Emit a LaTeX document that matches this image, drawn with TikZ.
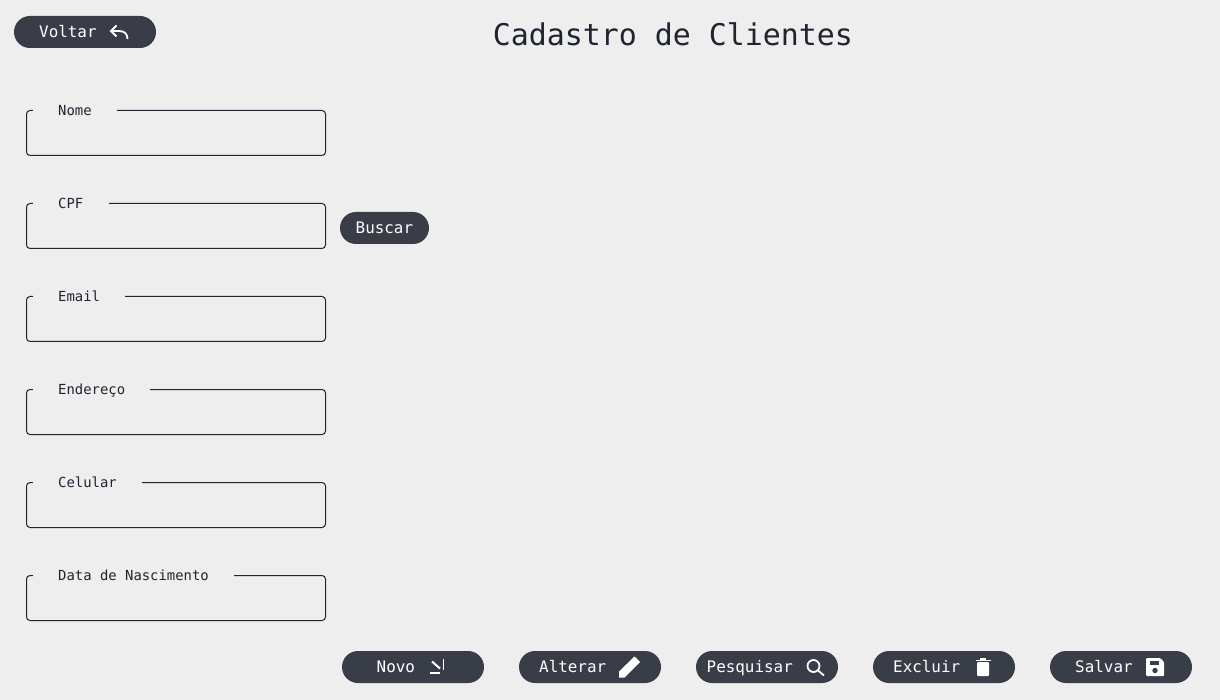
\documentclass[tikz,border=0pt]{standalone}
\usepackage{fontspec}
\setmainfont{DejaVu Sans Mono}
\definecolor{pagebg}{HTML}{EEEEEE}
\definecolor{btnfill}{HTML}{393D47}
\definecolor{ink}{HTML}{1F2430}
\begin{document}
\begin{tikzpicture}[
    x=1pt, y=-1pt,
    field/.style={draw=ink, line width=1pt, rounded corners=3.5pt, minimum width=299pt, minimum height=45pt, inner sep=0pt, outer sep=0pt, anchor=north west},
    flabel/.style={fill=pagebg, text=ink, font=\fontsize{13.9}{16}\selectfont, inner xsep=25.3pt, inner ysep=2pt, anchor=base west},
    btn/.style={fill=btnfill, rounded corners=16pt, minimum height=32pt, inner sep=0pt},
    btntext/.style={text=white, font=\fontsize{15.9}{18}\selectfont, inner sep=0pt, anchor=base west},
    icon/.style={draw=white, line width=1.8pt},
    iconfill/.style={fill=white},
]
\useasboundingbox[fill=pagebg] (0,0) rectangle (1220,700);

\node[text=ink, font=\fontsize{29.9}{34}\selectfont, inner sep=0pt] (title) at (673,34) {Cadastro de Clientes};

% Fields
\node[field] (nome) at (26.5,110.5) {};
\node[field] (cpf) at (26.5,203.5) {};
\node[field] (email) at (26.5,296.5) {};
\node[field] (endereco) at (26.5,389.5) {};
\node[field] (celular) at (26.5,482.5) {};
\node[field] (nascimento) at (26.5,575.5) {};

\node[flabel] at (32.7,115.4) {Nome};
\node[flabel] at (32.7,208.4) {CPF};
\node[flabel] at (32.7,301.4) {Email};
\node[flabel] at (32.7,394.4) {Endereço};
\node[flabel] at (32.7,487.4) {Celular};
\node[flabel] at (32.7,580.4) {Data de Nascimento};

% Buttons
\node[btn, minimum width=142pt] (voltar) at (85,32) {};
\node[btn, minimum width=89pt] (buscar) at (384.5,228) {};
\node[btn, minimum width=142pt] (novo) at (413,667) {};
\node[btn, minimum width=142pt] (alterar) at (590,667) {};
\node[btn, minimum width=142pt] (pesquisar) at (767,667) {};
\node[btn, minimum width=142pt] (excluir) at (944,667) {};
\node[btn, minimum width=142pt] (salvar) at (1121,667) {};

\node[btntext] at (39,37.5) {Voltar};
\node[btntext] at (355.5,233.5) {Buscar};
\node[btntext] at (376.5,672.5) {Novo};
\node[btntext] at (539,672.5) {Alterar};
\node[btntext] at (706.5,672.5) {Pesquisar};
\node[btntext] at (893,672.5) {Excluir};
\node[btntext] at (1075,672.5) {Salvar};

% Icons
\draw[icon] (116.5,25.5) -- (111,31) -- (116.5,36.5);
\draw[icon] (111,31) -- (119,31) .. controls (124.5,31) and (127.5,34) .. (127.5,39);
\draw[icon] (429.5,673) -- (440,673);
\draw[icon, line width=2pt] (432,661.5) -- (440,668.5);
\draw[icon, line width=1.8pt] (443.5,659) -- (443.5,669.5);
\fill[iconfill] (619,671.5) -- (634.5,656.5) -- (640,662) -- (624.5,677.5) -- (619,677.5) -- cycle;
\draw[icon] (813.5,666) circle (6pt);
\draw[icon] (818,670.5) -- (824,675.5);
\fill[iconfill, rounded corners=1pt] (977,662) rectangle (989,676);
\fill[iconfill] (975.5,659.5) rectangle (990.5,661);
\fill[iconfill] (980,658) rectangle (986,660);
\fill[iconfill, rounded corners=1pt] (1146,658) -- (1160,658) -- (1164,662) -- (1164,676) -- (1146,676) -- cycle;
\fill[btnfill] (1149.5,661) rectangle (1158.5,664.5);
\fill[btnfill] (1155,670.5) circle (2.7pt);
\end{tikzpicture}
\end{document}
